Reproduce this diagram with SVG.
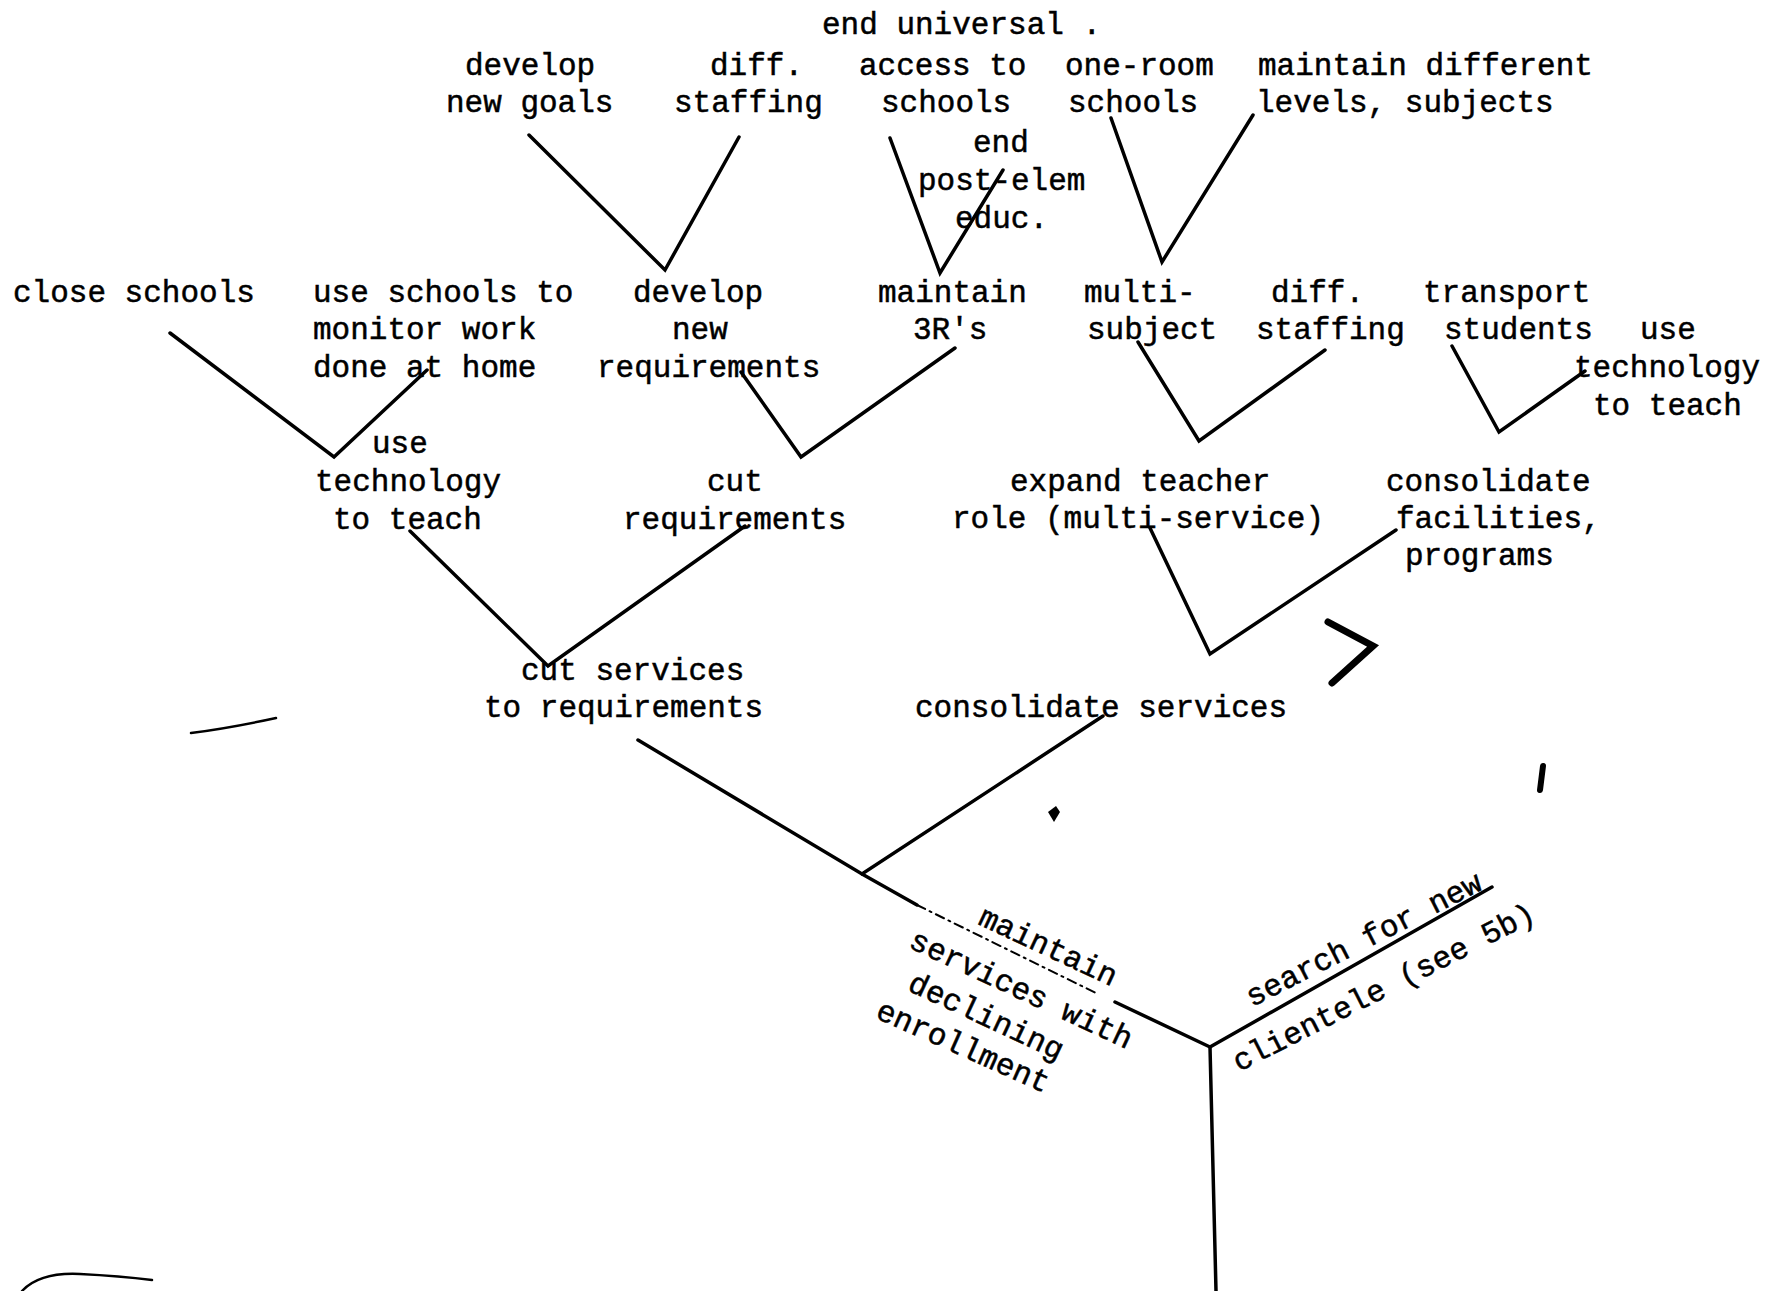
<svg xmlns="http://www.w3.org/2000/svg" width="1766" height="1291" viewBox="0 0 1766 1291">
<style>
text{font-family:"Liberation Mono","DejaVu Sans Mono",monospace;font-size:31px;fill:#000;stroke:#000;stroke-width:0.5}
.c line,.c polyline{stroke:#000;stroke-width:3.5;fill:none;stroke-linecap:round;stroke-linejoin:miter}
.dash{stroke-width:2 !important;stroke-dasharray:9 5 2 5}
.m{stroke:#000;fill:none;stroke-linecap:round}
</style>
<rect width="1766" height="1291" fill="#fff"/>
<g id="connectors" class="c">
<polyline points="529,135 665,270 739,137"/>
<polyline points="890,138 940,273 1003,170"/>
<polyline points="1111,118 1162,262 1253,115"/>
<polyline points="170,333 334,457 427,370"/>
<polyline points="741,372 801,457 955,348"/>
<polyline points="1138,342 1199,441 1325,350"/>
<polyline points="1452,346 1499,432 1585,371"/>
<polyline points="410,531 548,666 745,526"/>
<polyline points="1150,528 1210,654 1396,530"/>
<polyline points="638,740 862,874 1103,716"/>
<line x1="862" y1="874" x2="917" y2="905"/>
<line class="dash" x1="917" y1="905" x2="1098" y2="994"/>
<line x1="1115" y1="1002" x2="1210" y2="1047"/>
<line x1="1210" y1="1047" x2="1492" y2="887"/>
<line x1="1210" y1="1047" x2="1216" y2="1291"/>
</g>
<g id="n-end-universal"><text x="822" y="34">end universal .</text><text x="859" y="75">access to</text><text x="881" y="112">schools</text></g>
<g id="n-develop-goals"><text x="465" y="75">develop</text><text x="446" y="112">new goals</text></g>
<g id="n-diff-staffing-1"><text x="710" y="75">diff.</text><text x="674" y="112">staffing</text></g>
<g id="n-end-postelem"><text x="973" y="152">end</text><text x="918" y="190">post-elem</text><text x="955" y="228">educ.</text></g>
<g id="n-one-room"><text x="1065" y="75">one-room</text><text x="1068" y="112">schools</text></g>
<g id="n-maintain-levels"><text x="1258" y="75">maintain different</text><text x="1256" y="112">levels, subjects</text></g>
<g id="n-close"><text x="13" y="302">close schools</text></g>
<g id="n-use-schools"><text x="313" y="302">use schools to</text><text x="313" y="339">monitor work</text><text x="313" y="377">done at home</text></g>
<g id="n-develop-req"><text x="633" y="302">develop</text><text x="672" y="339">new</text><text x="597" y="377">requirements</text></g>
<g id="n-3rs"><text x="878" y="302">maintain</text><text x="913" y="339">3R's</text></g>
<g id="n-multi"><text x="1084" y="302">multi-</text><text x="1087" y="339">subject</text></g>
<g id="n-diff-staffing-2"><text x="1271" y="302">diff.</text><text x="1256" y="339">staffing</text></g>
<g id="n-transport"><text x="1423" y="302">transport</text><text x="1444" y="339">students</text></g>
<g id="n-use-tech-2"><text x="1640" y="339">use</text><text x="1574" y="377">technology</text><text x="1593" y="415">to teach</text></g>
<g id="n-use-tech-1"><text x="372" y="453">use</text><text x="315" y="491">technology</text><text x="333" y="529">to teach</text></g>
<g id="n-cut-req"><text x="707" y="491">cut</text><text x="623" y="529">requirements</text></g>
<g id="n-expand"><text x="1010" y="491">expand teacher</text><text x="952" y="528">role (multi-service)</text></g>
<g id="n-consol-fac"><text x="1386" y="491">consolidate</text><text x="1396" y="528">facilities,</text><text x="1405" y="565">programs</text></g>
<g id="n-cut-services"><text x="521" y="680">cut services</text><text x="484" y="717">to requirements</text></g>
<g id="n-consol-services"><text x="915" y="717">consolidate services</text></g>
<g id="n-maintain-services" text-anchor="middle">
<text x="1048" y="956" transform="rotate(25 1048 947)">maintain</text>
<text x="1021" y="999" transform="rotate(25 1021 990)">services with</text>
<text x="986" y="1026" transform="rotate(25 986 1017)">declining</text>
<text x="963" y="1056" transform="rotate(24 963 1047)">enrollment</text>
</g>
<g id="n-search" text-anchor="middle">
<text x="1364" y="949" transform="rotate(-27 1364 940)">search for new</text>
<text x="1384" y="997" transform="rotate(-27 1384 988)">clientele (see 5b)</text>
</g>
<g id="scan-marks">
<path class="m" stroke-width="7" d="M1328,622 L1373,646 L1332,683"/>
<path class="m" stroke-width="2.5" d="M191,733 Q230,728 276,718"/>
<path class="m" stroke-width="2.5" d="M22,1291 Q40,1272 80,1274 Q120,1276 152,1280"/>
<path class="m" stroke-width="6" d="M1543,766 L1540,790"/>
<path d="M1048,812 l8,-6 l4,6 l-6,10 z" fill="#000"/>
</g>
</svg>
